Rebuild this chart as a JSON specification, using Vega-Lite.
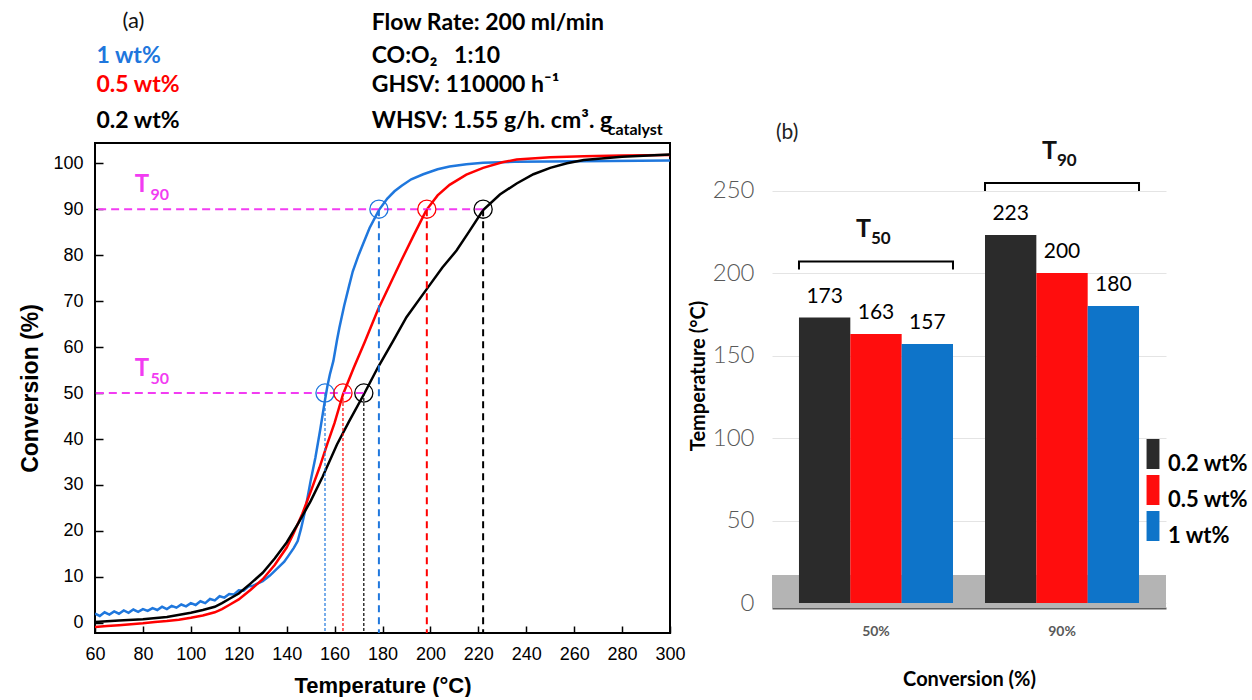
{
  "$schema": "https://vega.github.io/schema/vega-lite/v6.json",
  "background": "white",
  "padding": {"left": 18, "top": 9, "right": 0, "bottom": 0},
  "spacing": 1,
  "config": {"view": {"stroke": null}},
  "resolve": {"scale": {"color": "independent"}, "legend": {"color": "independent"}},
  "datasets": {
    "curves": [
      {"series": "1 wt%", "temp": 60, "conv": 2.0}, {"series": "1 wt%", "temp": 62, "conv": 1.5}, {"series": "1 wt%", "temp": 64, "conv": 2.3}, {"series": "1 wt%", "temp": 66, "conv": 1.8},
      {"series": "1 wt%", "temp": 68, "conv": 2.5}, {"series": "1 wt%", "temp": 70, "conv": 2.0}, {"series": "1 wt%", "temp": 72, "conv": 2.7}, {"series": "1 wt%", "temp": 74, "conv": 2.2},
      {"series": "1 wt%", "temp": 76, "conv": 2.9}, {"series": "1 wt%", "temp": 78, "conv": 2.4}, {"series": "1 wt%", "temp": 80, "conv": 3.0}, {"series": "1 wt%", "temp": 82, "conv": 2.6},
      {"series": "1 wt%", "temp": 84, "conv": 3.2}, {"series": "1 wt%", "temp": 86, "conv": 2.8}, {"series": "1 wt%", "temp": 88, "conv": 3.5}, {"series": "1 wt%", "temp": 90, "conv": 3.0},
      {"series": "1 wt%", "temp": 92, "conv": 3.7}, {"series": "1 wt%", "temp": 94, "conv": 3.3}, {"series": "1 wt%", "temp": 96, "conv": 4.0}, {"series": "1 wt%", "temp": 98, "conv": 3.6},
      {"series": "1 wt%", "temp": 100, "conv": 4.3}, {"series": "1 wt%", "temp": 102, "conv": 3.9}, {"series": "1 wt%", "temp": 104, "conv": 4.7}, {"series": "1 wt%", "temp": 106, "conv": 4.3},
      {"series": "1 wt%", "temp": 108, "conv": 5.2}, {"series": "1 wt%", "temp": 110, "conv": 4.9}, {"series": "1 wt%", "temp": 112, "conv": 5.8}, {"series": "1 wt%", "temp": 114, "conv": 5.5},
      {"series": "1 wt%", "temp": 116, "conv": 6.3}, {"series": "1 wt%", "temp": 118, "conv": 6.2}, {"series": "1 wt%", "temp": 120, "conv": 7.1}, {"series": "1 wt%", "temp": 122, "conv": 7.0},
      {"series": "1 wt%", "temp": 124, "conv": 7.9}, {"series": "1 wt%", "temp": 126, "conv": 8.1}, {"series": "1 wt%", "temp": 128, "conv": 8.6}, {"series": "1 wt%", "temp": 130, "conv": 9.1},
      {"series": "1 wt%", "temp": 133, "conv": 10.3}, {"series": "1 wt%", "temp": 136, "conv": 11.8}, {"series": "1 wt%", "temp": 139, "conv": 13.3}, {"series": "1 wt%", "temp": 141, "conv": 14.8},
      {"series": "1 wt%", "temp": 143, "conv": 16.3}, {"series": "1 wt%", "temp": 144.6, "conv": 17.8}, {"series": "1 wt%", "temp": 146, "conv": 20.5}, {"series": "1 wt%", "temp": 147.4, "conv": 23.7},
      {"series": "1 wt%", "temp": 148.8, "conv": 27.5}, {"series": "1 wt%", "temp": 150, "conv": 30.9}, {"series": "1 wt%", "temp": 152, "conv": 36}, {"series": "1 wt%", "temp": 154, "conv": 42},
      {"series": "1 wt%", "temp": 156, "conv": 48.5}, {"series": "1 wt%", "temp": 157, "conv": 51.5}, {"series": "1 wt%", "temp": 158, "conv": 54}, {"series": "1 wt%", "temp": 159.5, "conv": 57},
      {"series": "1 wt%", "temp": 161, "conv": 61.5}, {"series": "1 wt%", "temp": 162, "conv": 64.2}, {"series": "1 wt%", "temp": 164, "conv": 69}, {"series": "1 wt%", "temp": 166, "conv": 73.2},
      {"series": "1 wt%", "temp": 167.6, "conv": 76.5}, {"series": "1 wt%", "temp": 170, "conv": 80}, {"series": "1 wt%", "temp": 171.8, "conv": 82.3}, {"series": "1 wt%", "temp": 174.6, "conv": 85.9},
      {"series": "1 wt%", "temp": 178.5, "conv": 89.8}, {"series": "1 wt%", "temp": 182, "conv": 92.3}, {"series": "1 wt%", "temp": 185, "conv": 93.9}, {"series": "1 wt%", "temp": 188, "conv": 95.1},
      {"series": "1 wt%", "temp": 192, "conv": 96.5}, {"series": "1 wt%", "temp": 197, "conv": 97.6}, {"series": "1 wt%", "temp": 203, "conv": 98.7}, {"series": "1 wt%", "temp": 208, "conv": 99.3},
      {"series": "1 wt%", "temp": 215, "conv": 99.8}, {"series": "1 wt%", "temp": 222, "conv": 100.1}, {"series": "1 wt%", "temp": 235, "conv": 100.3}, {"series": "1 wt%", "temp": 250, "conv": 100.4},
      {"series": "1 wt%", "temp": 275, "conv": 100.5}, {"series": "1 wt%", "temp": 300, "conv": 100.6},

      {"series": "0.5 wt%", "temp": 60, "conv": -0.9}, {"series": "0.5 wt%", "temp": 65, "conv": -0.7}, {"series": "0.5 wt%", "temp": 70, "conv": -0.5}, {"series": "0.5 wt%", "temp": 75, "conv": -0.3},
      {"series": "0.5 wt%", "temp": 80, "conv": -0.1}, {"series": "0.5 wt%", "temp": 85, "conv": 0.2}, {"series": "0.5 wt%", "temp": 90, "conv": 0.4}, {"series": "0.5 wt%", "temp": 95, "conv": 0.7},
      {"series": "0.5 wt%", "temp": 100, "conv": 1.1}, {"series": "0.5 wt%", "temp": 105, "conv": 1.6}, {"series": "0.5 wt%", "temp": 110, "conv": 2.3}, {"series": "0.5 wt%", "temp": 113, "conv": 3.0},
      {"series": "0.5 wt%", "temp": 116, "conv": 3.9}, {"series": "0.5 wt%", "temp": 120, "conv": 5.1}, {"series": "0.5 wt%", "temp": 125, "conv": 7.2}, {"series": "0.5 wt%", "temp": 130, "conv": 9.5},
      {"series": "0.5 wt%", "temp": 135, "conv": 12.6}, {"series": "0.5 wt%", "temp": 140, "conv": 16.4}, {"series": "0.5 wt%", "temp": 143, "conv": 19.6}, {"series": "0.5 wt%", "temp": 146.5, "conv": 23.7},
      {"series": "0.5 wt%", "temp": 150, "conv": 28.5}, {"series": "0.5 wt%", "temp": 153.7, "conv": 33.8}, {"series": "0.5 wt%", "temp": 157, "conv": 39}, {"series": "0.5 wt%", "temp": 160, "conv": 43.5},
      {"series": "0.5 wt%", "temp": 163.5, "conv": 49.7}, {"series": "0.5 wt%", "temp": 168, "conv": 55.5}, {"series": "0.5 wt%", "temp": 172.5, "conv": 61}, {"series": "0.5 wt%", "temp": 178, "conv": 68},
      {"series": "0.5 wt%", "temp": 183, "conv": 73.5}, {"series": "0.5 wt%", "temp": 188, "conv": 79}, {"series": "0.5 wt%", "temp": 193, "conv": 84.3}, {"series": "0.5 wt%", "temp": 198.3, "conv": 89.8},
      {"series": "0.5 wt%", "temp": 203, "conv": 93}, {"series": "0.5 wt%", "temp": 208, "conv": 95.3}, {"series": "0.5 wt%", "temp": 215, "conv": 97.5}, {"series": "0.5 wt%", "temp": 222, "conv": 99},
      {"series": "0.5 wt%", "temp": 230, "conv": 100.2}, {"series": "0.5 wt%", "temp": 236, "conv": 100.8}, {"series": "0.5 wt%", "temp": 250, "conv": 101.3}, {"series": "0.5 wt%", "temp": 264, "conv": 101.5},
      {"series": "0.5 wt%", "temp": 280, "conv": 101.7}, {"series": "0.5 wt%", "temp": 300, "conv": 101.8},

      {"series": "0.2 wt%", "temp": 60, "conv": 0.2}, {"series": "0.2 wt%", "temp": 70, "conv": 0.5}, {"series": "0.2 wt%", "temp": 80, "conv": 0.8}, {"series": "0.2 wt%", "temp": 90, "conv": 1.3},
      {"series": "0.2 wt%", "temp": 100, "conv": 2.2}, {"series": "0.2 wt%", "temp": 105, "conv": 2.8}, {"series": "0.2 wt%", "temp": 110, "conv": 3.5}, {"series": "0.2 wt%", "temp": 113, "conv": 4.3},
      {"series": "0.2 wt%", "temp": 116, "conv": 5.2}, {"series": "0.2 wt%", "temp": 120, "conv": 6.4}, {"series": "0.2 wt%", "temp": 125, "conv": 8.6}, {"series": "0.2 wt%", "temp": 130, "conv": 10.9},
      {"series": "0.2 wt%", "temp": 135, "conv": 14}, {"series": "0.2 wt%", "temp": 140, "conv": 17.5}, {"series": "0.2 wt%", "temp": 145, "conv": 21.8}, {"series": "0.2 wt%", "temp": 150, "conv": 26.5},
      {"series": "0.2 wt%", "temp": 155, "conv": 31.8}, {"series": "0.2 wt%", "temp": 161, "conv": 38.8}, {"series": "0.2 wt%", "temp": 166, "conv": 43.8}, {"series": "0.2 wt%", "temp": 172.3, "conv": 49.8},
      {"series": "0.2 wt%", "temp": 178, "conv": 55.5}, {"series": "0.2 wt%", "temp": 184.4, "conv": 61.3}, {"series": "0.2 wt%", "temp": 190, "conv": 66.5}, {"series": "0.2 wt%", "temp": 198.3, "conv": 72.5},
      {"series": "0.2 wt%", "temp": 205, "conv": 77.3}, {"series": "0.2 wt%", "temp": 210.9, "conv": 81}, {"series": "0.2 wt%", "temp": 216, "conv": 85}, {"series": "0.2 wt%", "temp": 222, "conv": 89.8},
      {"series": "0.2 wt%", "temp": 229, "conv": 93.2}, {"series": "0.2 wt%", "temp": 236, "conv": 95.6}, {"series": "0.2 wt%", "temp": 243, "conv": 97.6}, {"series": "0.2 wt%", "temp": 250, "conv": 99},
      {"series": "0.2 wt%", "temp": 257, "conv": 100}, {"series": "0.2 wt%", "temp": 264, "conv": 100.7}, {"series": "0.2 wt%", "temp": 280, "conv": 101.4}, {"series": "0.2 wt%", "temp": 300, "conv": 101.9}
    ],
    "markers": [
      {"series": "1 wt%", "level": 50, "temp": 156},
      {"series": "0.5 wt%", "level": 50, "temp": 163.5},
      {"series": "0.2 wt%", "level": 50, "temp": 172.2},
      {"series": "1 wt%", "level": 90, "temp": 178.5},
      {"series": "0.5 wt%", "level": 90, "temp": 198.5},
      {"series": "0.2 wt%", "level": 90, "temp": 222}
    ],
    "bars": [
      {"conversion": "50%", "series": "0.2 wt%", "temp": 173},
      {"conversion": "50%", "series": "0.5 wt%", "temp": 163},
      {"conversion": "50%", "series": "1 wt%", "temp": 157},
      {"conversion": "90%", "series": "0.2 wt%", "temp": 223},
      {"conversion": "90%", "series": "0.5 wt%", "temp": 200},
      {"conversion": "90%", "series": "1 wt%", "temp": 180}
    ],
    "brackets": [
      {"conversion": "50%", "level": 207, "sub": "50"},
      {"conversion": "90%", "level": 254.5, "sub": "90"}
    ]
  },
  "hconcat": [
    {
      "width": 575,
      "height": 490,
      "view": {"stroke": "black", "strokeWidth": 2},
      "layer": [
        {
          "data": {"name": "curves"},
          "mark": {"type": "line", "strokeWidth": 2.5, "clip": true},
          "encoding": {
            "x": {
              "field": "temp", "type": "quantitative",
              "scale": {"domain": [60, 300], "nice": false, "zero": false},
              "axis": {
                "title": "Temperature (°C)",
                "values": [60, 70, 80, 90, 100, 110, 120, 130, 140, 150, 160, 170, 180, 190, 200, 210, 220, 230, 240, 250, 260, 270, 280, 290, 300],
                "labelExpr": "datum.value % 20 === 0 ? datum.label : ''",
                "labelFlush": false, "labelOverlap": false,
                "grid": false, "domain": false, "ticks": true, "tickSize": 0,
                "tickColor": "black", "tickWidth": 1.5,
                "encoding": {"ticks": {"y2": {"value": {"expr": "datum.value % 20 === 0 ? -7 : 6"}}}},
                "labelFont": "Liberation Sans", "labelFontSize": 18, "labelColor": "black", "labelPadding": 12,
                "titleFont": "Liberation Sans", "titleFontSize": 22, "titleFontWeight": "bold", "titleColor": "black", "titlePadding": 12
              }
            },
            "y": {
              "field": "conv", "type": "quantitative",
              "scale": {"domain": [-2.2, 104.4], "nice": false, "zero": false},
              "axis": {
                "title": "Conversion (%)",
                "values": [0, 5, 10, 15, 20, 25, 30, 35, 40, 45, 50, 55, 60, 65, 70, 75, 80, 85, 90, 95, 100],
                "labelExpr": "datum.value % 10 === 0 ? datum.label : ''",
                "labelOverlap": false,
                "grid": false, "domain": false, "ticks": true, "tickSize": 0,
                "tickColor": "black", "tickWidth": 1.5,
                "encoding": {"ticks": {"x2": {"value": {"expr": "datum.value % 10 === 0 ? 8 : -4"}}}},
                "labelFont": "Liberation Sans", "labelFontSize": 18, "labelColor": "black", "labelPadding": 12,
                "titleFont": "Liberation Sans", "titleFontSize": 23, "titleFontWeight": "bold", "titleColor": "black", "titlePadding": 10
              }
            },
            "color": {
              "field": "series", "type": "nominal",
              "scale": {"domain": ["1 wt%", "0.5 wt%", "0.2 wt%"], "range": ["#1f77dd", "#ff0000", "#000000"]},
              "legend": null
            }
          }
        },
        {
          "data": {"name": "markers"},
          "transform": [{"aggregate": [{"op": "max", "field": "temp", "as": "reach"}], "groupby": ["level"]}],
          "mark": {"type": "rule", "color": "#f23cf2", "strokeWidth": 2, "strokeDash": [8, 5]},
          "encoding": {
            "x": {"field": "reach", "type": "quantitative"},
            "x2": {"datum": 60},
            "y": {"field": "level", "type": "quantitative"}
          }
        },
        {
          "data": {"name": "markers"},
          "transform": [{"filter": "datum.level === 50"}],
          "mark": {"type": "rule", "strokeWidth": 1.2, "strokeDash": [3, 2]},
          "encoding": {
            "x": {"field": "temp", "type": "quantitative"},
            "y": {"field": "level", "type": "quantitative"},
            "y2": {"datum": -2.2},
            "color": {"field": "series", "type": "nominal", "legend": null}
          }
        },
        {
          "data": {"name": "markers"},
          "transform": [{"filter": "datum.level === 90"}],
          "mark": {"type": "rule", "strokeWidth": 2, "strokeDash": [7, 5]},
          "encoding": {
            "x": {"field": "temp", "type": "quantitative"},
            "y": {"field": "level", "type": "quantitative"},
            "y2": {"datum": -2.2},
            "color": {"field": "series", "type": "nominal", "legend": null}
          }
        },
        {
          "data": {"name": "markers"},
          "mark": {"type": "point", "shape": "circle", "filled": false, "size": 330, "strokeWidth": 1.3, "opacity": 1},
          "encoding": {
            "x": {"field": "temp", "type": "quantitative"},
            "y": {"field": "level", "type": "quantitative"},
            "color": {"field": "series", "type": "nominal", "legend": null}
          }
        },
        {
          "data": {"values": [{"label": "(a)", "x": 71.5, "y": 130.9}]},
          "mark": {"type": "text", "align": "left", "baseline": "middle", "font": "Lato", "fontSize": 22, "color": "#111"},
          "encoding": {
            "x": {"field": "x", "type": "quantitative"},
            "y": {"field": "y", "type": "quantitative"},
            "text": {"field": "label"}
          }
        },
        {
          "data": {"values": [
            {"series": "1 wt%", "x": 60.6, "y": 123.3},
            {"series": "0.5 wt%", "x": 60.6, "y": 117.0},
            {"series": "0.2 wt%", "x": 60.6, "y": 109.1}
          ]},
          "mark": {"type": "text", "align": "left", "baseline": "middle", "font": "Lato", "fontSize": 23, "fontWeight": "bold"},
          "encoding": {
            "x": {"field": "x", "type": "quantitative"},
            "y": {"field": "y", "type": "quantitative"},
            "text": {"field": "series"},
            "color": {"field": "series", "type": "nominal", "legend": null}
          }
        },
        {
          "data": {"values": [
            {"label": "Flow Rate: 200 ml/min", "x": 175.5, "y": 130.4},
            {"label": "CO:O₂\u00a0\u00a0\u00a01:10", "x": 175.5, "y": 123.3},
            {"label": "GHSV: 110000 h⁻¹", "x": 175.5, "y": 117.0},
            {"label": "WHSV: 1.55 g/h. cm³. g", "x": 175.5, "y": 109.1}
          ]},
          "mark": {"type": "text", "align": "left", "baseline": "middle", "font": "Lato", "fontSize": 23, "fontWeight": "bold", "color": "black"},
          "encoding": {
            "x": {"field": "x", "type": "quantitative"},
            "y": {"field": "y", "type": "quantitative"},
            "text": {"field": "label"}
          }
        },
        {
          "data": {"values": [{"label": "catalyst", "x": 274.0, "y": 107.2}]},
          "mark": {"type": "text", "align": "left", "baseline": "middle", "font": "Lato", "fontSize": 16, "fontWeight": "bold", "color": "black"},
          "encoding": {
            "x": {"field": "x", "type": "quantitative"},
            "y": {"field": "y", "type": "quantitative"},
            "text": {"field": "label"}
          }
        },
        {
          "data": {"values": [
            {"label": "T", "x": 76.6, "y": 95.2},
            {"label": "T", "x": 76.6, "y": 55.2}
          ]},
          "mark": {"type": "text", "align": "left", "baseline": "middle", "font": "Lato", "fontSize": 24, "fontWeight": "bold", "color": "#f23cf2"},
          "encoding": {
            "x": {"field": "x", "type": "quantitative"},
            "y": {"field": "y", "type": "quantitative"},
            "text": {"field": "label"}
          }
        },
        {
          "data": {"values": [
            {"label": "90", "x": 83.2, "y": 93.1},
            {"label": "50", "x": 83.2, "y": 53.1}
          ]},
          "mark": {"type": "text", "align": "left", "baseline": "middle", "font": "Lato", "fontSize": 16, "fontWeight": "bold", "color": "#f23cf2"},
          "encoding": {
            "x": {"field": "x", "type": "quantitative"},
            "y": {"field": "y", "type": "quantitative"},
            "text": {"field": "label"}
          }
        }
      ]
    },
    {
      "width": 394,
      "height": 465,
      "title": {"text": "(b)", "anchor": "start", "frame": "group", "font": "Lato", "fontSize": 21, "fontWeight": "normal", "color": "#222", "offset": -4, "dx": 4},
      "layer": [
        {
          "data": {"values": [{"floor": "base"}]},
          "mark": {"type": "rect", "color": "#b4b4b4"},
          "encoding": {
            "y": {"datum": 17, "type": "quantitative"},
            "y2": {"datum": -3}
          }
        },
        {
          "data": {"name": "bars"},
          "mark": {"type": "bar"},
          "encoding": {
            "x": {
              "field": "conversion", "type": "nominal",
              "scale": {"paddingInner": 0.172, "paddingOuter": 0.145},
              "axis": {
                "title": "Conversion (%)", "labelAngle": 0, "ticks": false,
                "domainColor": "#5f5f5f", "domainWidth": 2,
                "labelFont": "Lato", "labelFontSize": 14, "labelFontWeight": "bold", "labelColor": "#595959", "labelPadding": 16,
                "titleFont": "Lato", "titleFontSize": 20, "titleFontWeight": "bold", "titleColor": "black", "titlePadding": 31
              }
            },
            "xOffset": {
              "field": "series", "type": "nominal",
              "scale": {"domain": ["0.2 wt%", "0.5 wt%", "1 wt%"], "paddingInner": 0, "paddingOuter": 0}
            },
            "y": {
              "field": "temp", "type": "quantitative",
              "scale": {"domain": [-3, 278.8], "nice": false, "zero": false},
              "axis": {
                "title": "Temperature (°C)", "values": [0, 50, 100, 150, 200, 250],
                "domain": false, "ticks": false, "grid": true, "gridColor": "#e4e4e4", "gridWidth": 1,
                "labelFont": "Lato", "labelFontSize": 24, "labelFontWeight": 300, "labelColor": "#595959", "labelPadding": 18,
                "titleFont": "Lato", "titleFontSize": 20, "titleFontWeight": "bold", "titleColor": "black", "titlePadding": 4
              }
            },
            "color": {
              "field": "series", "type": "nominal",
              "scale": {"domain": ["0.2 wt%", "0.5 wt%", "1 wt%"], "range": ["#2b2b2b", "#ff0d0d", "#0e74c9"]},
              "legend": {
                "orient": "none", "legendX": 366, "legendY": 296, "title": null, "padding": 0,
                "symbolType": "M-0.43,-1H0.43V1H-0.43Z", "symbolSize": 900, "symbolStrokeWidth": 0, "symbolOpacity": 1,
                "rowPadding": -2, "labelOffset": 0, "labelBaseline": "top",
                "labelFont": "Lato", "labelFontSize": 22, "labelFontWeight": "bold", "labelColor": "black"
              }
            }
          }
        },
        {
          "data": {"name": "bars"},
          "mark": {"type": "text", "baseline": "middle", "dy": -21, "font": "Lato", "fontSize": 21, "color": "black"},
          "encoding": {
            "x": {"field": "conversion", "type": "nominal"},
            "xOffset": {"field": "series", "type": "nominal"},
            "y": {"field": "temp", "type": "quantitative"},
            "text": {"field": "temp", "type": "quantitative"}
          }
        },
        {
          "data": {"name": "brackets"},
          "mark": {"type": "point", "shape": "M-1,0.104L-1,0L1,0L1,0.104", "filled": false, "size": 23716, "strokeWidth": 2, "color": "black", "opacity": 1},
          "encoding": {
            "x": {"field": "conversion", "type": "nominal"},
            "y": {"field": "level", "type": "quantitative"}
          }
        },
        {
          "data": {"name": "brackets"},
          "mark": {"type": "text", "align": "right", "baseline": "middle", "dx": -5, "dy": -32, "font": "Lato", "fontSize": 25, "fontWeight": "bold", "color": "#111"},
          "encoding": {
            "x": {"field": "conversion", "type": "nominal"},
            "y": {"field": "level", "type": "quantitative"},
            "text": {"value": "T"}
          }
        },
        {
          "data": {"name": "brackets"},
          "mark": {"type": "text", "align": "left", "baseline": "middle", "dx": -5, "dy": -22, "font": "Lato", "fontSize": 17, "fontWeight": "bold", "color": "#111"},
          "encoding": {
            "x": {"field": "conversion", "type": "nominal"},
            "y": {"field": "level", "type": "quantitative"},
            "text": {"field": "sub"}
          }
        }
      ]
    }
  ]
}
